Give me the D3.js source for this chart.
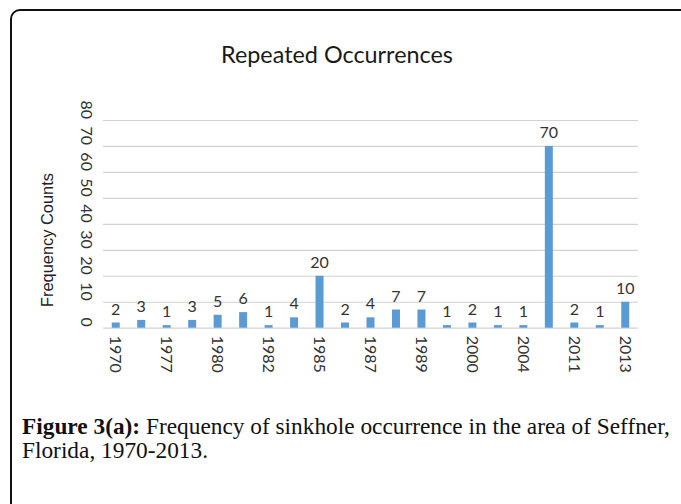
<!DOCTYPE html>
<html><head><meta charset="utf-8">
<script src="https://cdn.jsdelivr.net/npm/d3@7"></script>
<style>body{margin:0;background:#fff}svg{display:block}</style>
</head><body>
<svg id="c" width="681" height="504"></svg>
<script>
const years = ["1970","1975","1977","1979","1980","1981","1982","1984","1985","1986","1987","1988","1989","1995","2000","2002","2004","2010","2011","2012","2013"];
const counts = [2,3,1,3,5,6,1,4,20,2,4,7,7,1,2,1,1,70,2,1,10];
const yTicks = [0,10,20,30,40,50,60,70,80];
const xTickLabels = years.filter((d,i)=>i%2===0);
const chartTitle = "Repeated Occurrences";
const yTitle = "Frequency Counts";
const captionBold = "Figure 3(a):";
const captionRest = " Frequency of sinkhole occurrence in the area of Seffner,";
const captionLine2 = "Florida, 1970-2013.";

const svg = d3.select("#c");
svg.append("rect").attr("width",681).attr("height",504).attr("fill","#fff");

function fit(sel, target){
  const w = sel.node().getComputedTextLength();
  const fs = parseFloat(sel.attr("font-size"));
  sel.attr("font-size", (fs*target/w).toFixed(2));
}
const labFont = "Lato, 'Open Sans', sans-serif";

// frame
svg.append("rect").attr("x",11).attr("y",10).attr("width",720).attr("height",620)
  .attr("rx",9).attr("fill","none").attr("stroke","#111").attr("stroke-width",2);

const x = d3.scaleBand().domain(years).range([103,638]).paddingInner(0.686).paddingOuter(0.343);
const y = d3.scaleLinear().domain([0,80]).range([327.7,120]);

// gridlines
const yAxis = d3.axisLeft(y).tickValues(yTicks).tickSize(-(638-103)).tickFormat("");
const gy = svg.append("g").attr("transform","translate(103,0)").call(yAxis);
gy.select(".domain").remove();
gy.selectAll(".tick line").attr("stroke","#d2d2d2").attr("stroke-width",1.2);

// y tick labels (rotated)
svg.append("g").selectAll("text").data(yTicks).join("text")
  .attr("transform",d=>`translate(87,${y(d)-1}) rotate(90)`)
  .attr("text-anchor","end").attr("dominant-baseline","central")
  .attr("font-family",labFont).attr("font-size",16)
  .attr("fill","#333").text(d=>d);

// bars
svg.append("g").selectAll("rect").data(counts).join("rect")
  .attr("x",(d,i)=>x(years[i])).attr("width",x.bandwidth())
  .attr("y",d=>y(d)).attr("height",d=>y(0)-y(d)).attr("fill","#5b9bd5");

// data labels
svg.append("g").selectAll("text").data(counts).join("text")
  .attr("x",(d,i)=>x(years[i])+x.bandwidth()/2).attr("y",d=>y(d)-8)
  .attr("text-anchor","middle").attr("font-family",labFont)
  .attr("font-size",16).attr("fill","#333").text(d=>d);

// x tick labels
const xAxis = d3.axisBottom(x).tickValues(xTickLabels).tickSize(0);
const gx = svg.append("g").attr("transform","translate(0,327.7)").call(xAxis);
gx.select(".domain").remove();
gx.selectAll(".tick text")
  .attr("transform","translate(1,8) rotate(90)").attr("x",0).attr("y",0).attr("dy",null)
  .attr("text-anchor","start").attr("dominant-baseline","central")
  .attr("font-family",labFont).attr("font-size",16).attr("fill","#333");

// title
const t = svg.append("text").attr("x",337).attr("y",63).attr("text-anchor","middle")
  .attr("font-family",labFont).attr("font-size",24).attr("fill","#1a1a1a").text(chartTitle);
fit(t,232);

// y title
const yt = svg.append("text").attr("transform","translate(53,240) rotate(-90)").attr("text-anchor","middle")
  .attr("font-family","'Liberation Sans', Arial, sans-serif").attr("font-size",16).attr("fill","#222").text(yTitle);
fit(yt,134);

// caption
const c1 = svg.append("text").attr("x",22).attr("y",434)
  .attr("font-family","'Liberation Serif', 'DejaVu Serif', serif").attr("font-size",20).attr("fill","#111");
c1.append("tspan").attr("font-weight","bold").text(captionBold);
c1.append("tspan").text(captionRest);
fit(c1,648);
svg.append("text").attr("x",22).attr("y",458)
  .attr("font-family","'Liberation Serif', 'DejaVu Serif', serif").attr("font-size",c1.attr("font-size")).attr("fill","#111")
  .text(captionLine2);
</script>
</body></html>
